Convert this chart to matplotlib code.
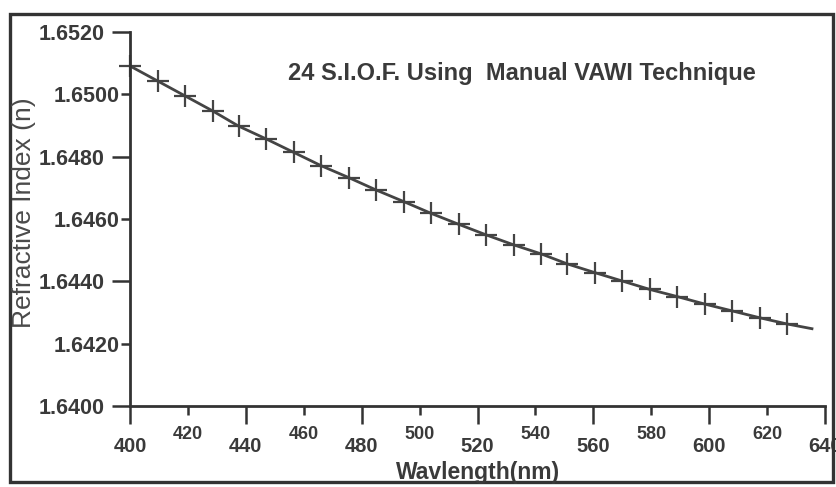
import matplotlib
matplotlib.use("Agg")
import matplotlib.pyplot as plt
from matplotlib.patches import Rectangle

# data
wavelength = [400, 409.5, 419, 428.5, 437.5, 447, 456.5, 466, 475.5, 485,
              494.5, 504, 513.5, 523, 532.5, 542, 551, 560.5, 570, 579.5,
              589, 598.5, 608, 617.5, 627]
refr_index = [1.65091, 1.65043, 1.64995, 1.64947, 1.64898, 1.64857, 1.64814,
              1.64771, 1.64733, 1.64693, 1.64656, 1.64618, 1.64583, 1.64549,
              1.64517, 1.64488, 1.64456, 1.64428, 1.64401, 1.64374, 1.64351,
              1.64327, 1.64305, 1.64283, 1.64263]
# fitted curve runs a bit past the last measured point
fit_end_x = [635.5]
fit_end_y = [1.64248]

x_major = [400, 440, 480, 520, 560, 600, 640]
x_minor = [420, 460, 500, 540, 580, 620]
y_major = [1.6400, 1.6440, 1.6480, 1.6520]
y_minor = [1.6420, 1.6460, 1.6500]

plt.rcParams['font.family'] = ['Liberation Sans', 'DejaVu Sans']
ink = '#3a3a3a'

W, H = 837, 487
fig = plt.figure(figsize=(W / 100, H / 100), dpi=100)
ax = fig.add_axes([130 / W, 1 - 406 / H, 695 / W, 374 / H])

xs = wavelength + fit_end_x
ys = refr_index + fit_end_y
ax.plot(xs, ys, color='#444444', lw=2.0, marker='+', ms=16, mew=1.6,
        markevery=list(range(len(wavelength))), clip_on=False)

ax.set_xlim(400, 640)
ax.set_ylim(1.6400, 1.6520)

for s in ['top', 'right']:
    ax.spines[s].set_visible(False)
for s in ['left', 'bottom']:
    ax.spines[s].set_linewidth(2.0)
    ax.spines[s].set_color('#333333')

ax.set_xticks(x_major)
ax.set_xticklabels([str(v) for v in x_major])
ax.set_xticks(x_minor, minor=True)
ax.set_xticklabels([str(v) for v in x_minor], minor=True)
ax.set_yticks(y_major)
ax.set_yticklabels(['%.4f' % v for v in y_major])
ax.set_yticks(y_minor, minor=True)
ax.set_yticklabels(['%.4f' % v for v in y_minor], minor=True)

ax.tick_params(axis='x', which='major', length=13, width=1.8, pad=9,
               labelsize=14.5, colors='#333333', labelcolor=ink)
ax.tick_params(axis='x', which='minor', length=6.5, width=1.8, pad=8,
               labelsize=13, colors='#333333', labelcolor=ink)
ax.tick_params(axis='y', which='major', length=13, width=1.8, pad=5,
               labelsize=15.5, colors='#333333', labelcolor=ink)
ax.tick_params(axis='y', which='minor', length=6.5, width=1.8, pad=1,
               labelsize=15.5, colors='#333333', labelcolor=ink)
for lab in ax.get_xticklabels(which='both') + ax.get_yticklabels(which='both'):
    lab.set_fontweight('bold')

fig.text(522 / W, 1 - 80 / H, '24 S.I.O.F. Using  Manual VAWI Technique',
         ha='center', va='baseline', fontsize=17, fontweight='bold', color=ink)
fig.text(478 / W, 1 - 479 / H, 'Wavlength(nm)', ha='center', va='baseline',
         fontsize=16.5, fontweight='bold', color=ink)
fig.text(24 / W, 1 - 213 / H, 'Refractive Index (n)', ha='center', va='center',
         rotation=90, fontsize=19, color='#4a4a4a')

# scanned frame around the whole figure
fig.patches.append(Rectangle((10 / W, 1 - 482 / H), 823 / W, 468 / H,
                             transform=fig.transFigure, fill=False,
                             lw=2.4, edgecolor='#333333'))

fig.savefig('out.png', dpi=100)
